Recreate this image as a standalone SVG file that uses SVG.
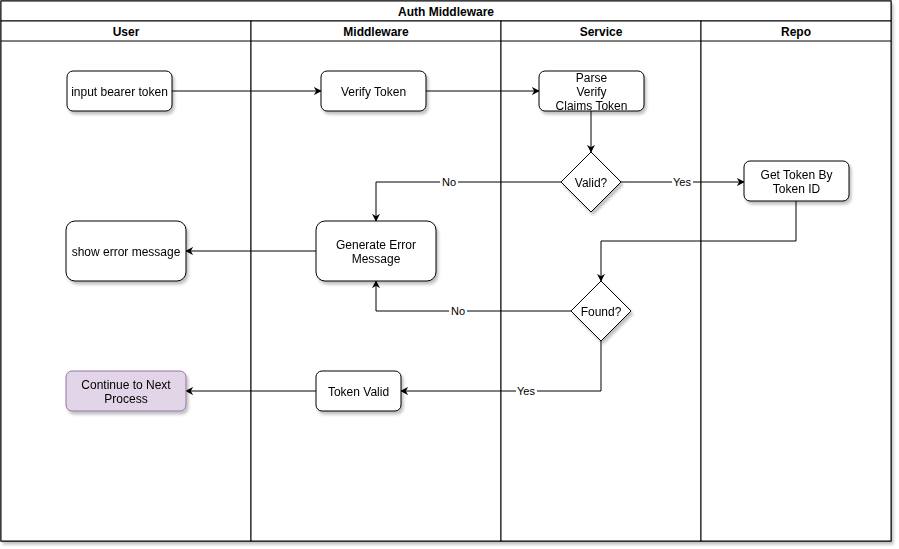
<svg xmlns="http://www.w3.org/2000/svg" width="899" height="549" viewBox="0 0 899 549">
<defs>
<filter id="sh" x="-10%" y="-10%" width="130%" height="140%">
<feGaussianBlur in="SourceAlpha" stdDeviation="1.5"/>
<feOffset dx="2" dy="3" result="b"/>
<feComponentTransfer><feFuncA type="linear" slope="0.25"/></feComponentTransfer>
<feMerge><feMergeNode/><feMergeNode in="SourceGraphic"/></feMerge>
</filter>
<marker id="ah" viewBox="0 0 10 10" refX="9" refY="5" markerWidth="8" markerHeight="8" markerUnits="userSpaceOnUse" orient="auto">
<path d="M0,0 L10,5 L0,10 L3,5 Z" fill="#000"/>
</marker>
</defs>
<style>
.lane{fill:#fff;stroke:#000;stroke-width:1}
.box{fill:#fff;stroke:#000;stroke-width:1}
.t{font-family:"Liberation Sans",Arial,sans-serif;font-size:12px;fill:#000;text-anchor:middle}
.h{font-family:"Liberation Sans",Arial,sans-serif;font-size:12px;font-weight:bold;fill:#000;text-anchor:middle}
.c{fill:none;stroke:#000;stroke-width:1;marker-end:url(#ah)}
.lb{fill:#fff}
.l{font-family:"Liberation Sans",Arial,sans-serif;font-size:11px;fill:#000;text-anchor:middle}
</style>
<rect width="899" height="549" fill="#fff"/>
<g id="pool" filter="url(#sh)">
<rect class="lane" x="1" y="1" width="890" height="540"/>
</g>
<g id="lanes">
<rect class="lane" x="1" y="1" width="890" height="20"/>
<text class="h" x="446" y="15.5">Auth Middleware</text>
<rect class="lane" x="1" y="21" width="250" height="520"/>
<rect class="lane" x="251" y="21" width="250" height="520"/>
<rect class="lane" x="501" y="21" width="200" height="520"/>
<rect class="lane" x="701" y="21" width="190" height="520"/>
<line x1="1" y1="41" x2="891" y2="41" stroke="#000"/>
<text class="h" x="126" y="35.5">User</text>
<text class="h" x="376" y="35.5">Middleware</text>
<text class="h" x="601" y="35.5">Service</text>
<text class="h" x="796" y="35.5">Repo</text>
</g>
<g id="connectors">
<path class="c" d="M172,91 L321,91"/>
<path class="c" d="M426,91 L539,91"/>
<path class="c" d="M591,111 L591,152"/>
<path class="c" d="M561,182 L376,182 L376,221"/>
<path class="c" d="M621,182 L744,182"/>
<path class="c" d="M796,201 L796,241 L601,241 L601,281"/>
<path class="c" d="M571,311 L376,311 L376,281"/>
<path class="c" d="M601,341 L601,391 L401,391"/>
<path class="c" d="M316,251 L186,251"/>
<path class="c" d="M316,391 L186,391"/>
<rect class="lb" x="440" y="176" width="18" height="12"/>
<text class="l" x="449" y="186">No</text>
<rect class="lb" x="672" y="176" width="21" height="12"/>
<text class="l" x="682" y="186">Yes</text>
<rect class="lb" x="449" y="305" width="18" height="12"/>
<text class="l" x="458" y="315">No</text>
<rect class="lb" x="516" y="385" width="21" height="12"/>
<text class="l" x="526" y="395">Yes</text>
</g>
<g id="n-input" filter="url(#sh)">
<rect class="box" x="67" y="71" width="105" height="40" rx="6"/>
<text class="t" x="119.5" y="96">input bearer token</text>
</g>
<g id="n-verify" filter="url(#sh)">
<rect class="box" x="321" y="71" width="105" height="40" rx="6"/>
<text class="t" x="373.5" y="96">Verify Token</text>
</g>
<g id="n-parse" filter="url(#sh)">
<rect class="box" x="539" y="71" width="105" height="40" rx="6"/>
<text class="t" x="591.5" y="82">Parse</text>
<text class="t" x="591.5" y="96">Verify</text>
<text class="t" x="591.5" y="110">Claims Token</text>
</g>
<g id="n-valid" filter="url(#sh)">
<path class="box" d="M591,152 L621,182 L591,212 L561,182 Z"/>
<text class="t" x="591" y="187">Valid?</text>
</g>
<g id="n-gettoken" filter="url(#sh)">
<rect class="box" x="744" y="161" width="105" height="40" rx="6"/>
<text class="t" x="796.5" y="179">Get Token By</text>
<text class="t" x="796.5" y="193">Token ID</text>
</g>
<g id="n-generr" filter="url(#sh)">
<rect class="box" x="316" y="221" width="120" height="60" rx="9"/>
<text class="t" x="376" y="249">Generate Error</text>
<text class="t" x="376" y="263">Message</text>
</g>
<g id="n-showerr" filter="url(#sh)">
<rect class="box" x="66" y="221" width="120" height="60" rx="9"/>
<text class="t" x="126" y="256">show error message</text>
</g>
<g id="n-found" filter="url(#sh)">
<path class="box" d="M601,281 L631,311 L601,341 L571,311 Z"/>
<text class="t" x="601" y="316">Found?</text>
</g>
<g id="n-tokenvalid" filter="url(#sh)">
<rect class="box" x="316" y="371" width="85" height="40" rx="6"/>
<text class="t" x="358.5" y="396">Token Valid</text>
</g>
<g id="n-continue" filter="url(#sh)">
<rect x="66" y="371" width="120" height="40" rx="6" fill="#e1d5e7" stroke="#9673a6"/>
<text class="t" x="126" y="389">Continue to Next</text>
<text class="t" x="126" y="403">Process</text>
</g>
</svg>
